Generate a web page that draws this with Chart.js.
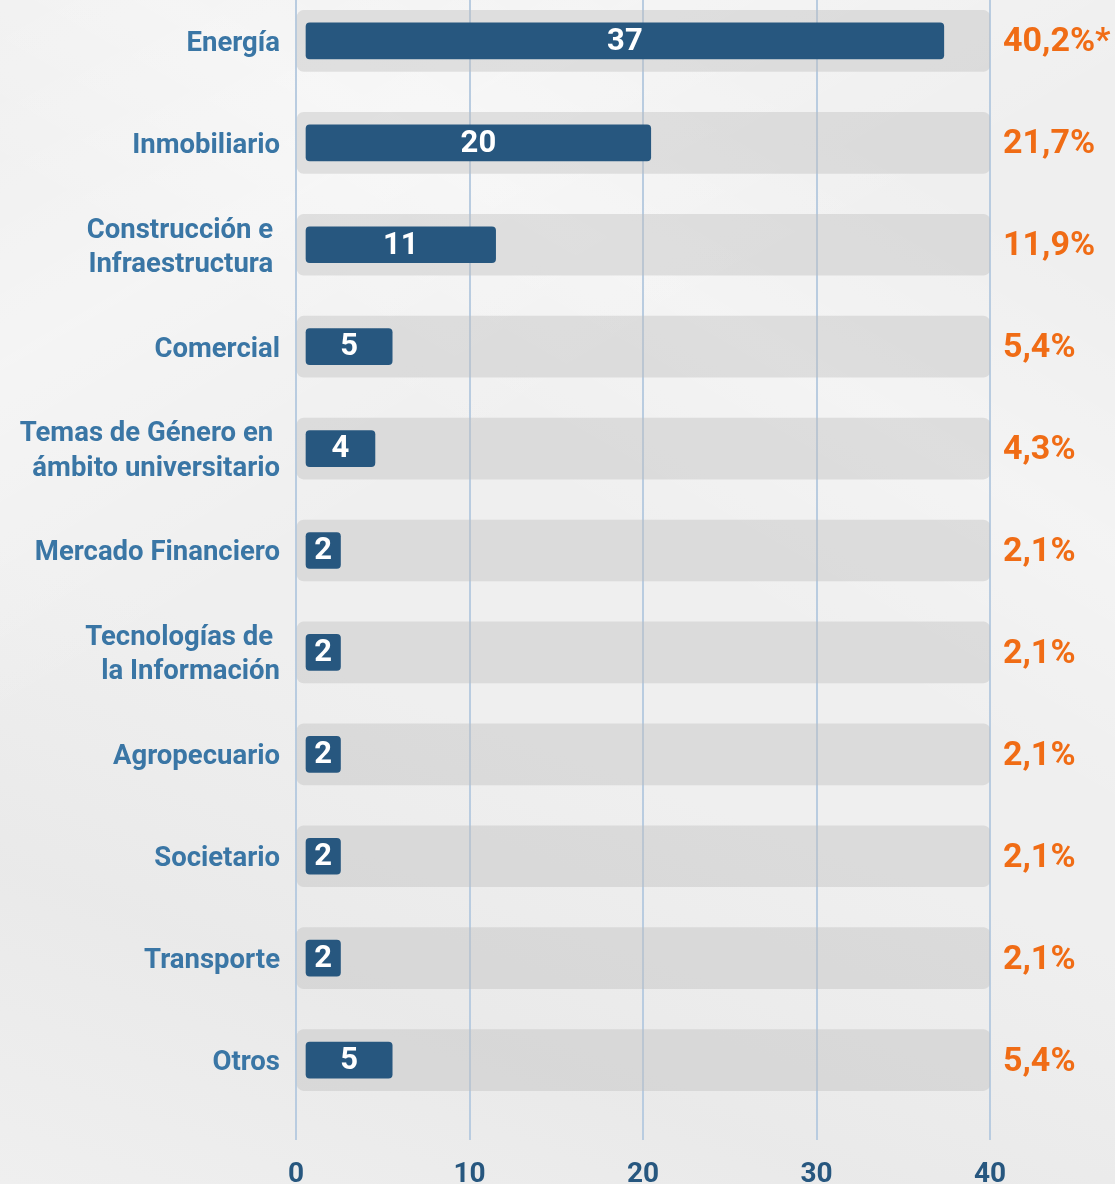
<!DOCTYPE html>
<html>
<head>
<meta charset="utf-8">
<script src="https://cdn.jsdelivr.net/npm/chart.js@4.4.1/dist/chart.umd.min.js"></script>
<style>
  html, body { margin: 0; padding: 0; overflow: hidden; }
  body {
    width: 1115px; height: 1184px; position: relative;
    background-color: #efefef;
    background-image:
      linear-gradient(150deg, rgba(255,255,255,0) 0%, rgba(255,255,255,0.35) 20%, rgba(255,255,255,0) 40%),
      linear-gradient(30deg, rgba(255,255,255,0) 55%, rgba(255,255,255,0.3) 70%, rgba(255,255,255,0) 85%),
      linear-gradient(200deg, rgba(230,230,230,0) 60%, rgba(228,228,228,0.5) 80%, rgba(230,230,230,0) 100%);
  }
  #wrap { position: absolute; left: 0; top: -10px; width: 1115px; height: 1196px; }
</style>
</head>
<body>
<div id="wrap"><canvas id="c"></canvas></div>
<script>
const categories = [
  "Energía",
  "Inmobiliario",
  ["Construcción e ", "Infraestructura "],
  "Comercial",
  ["Temas de Género en ", "ámbito universitario"],
  "Mercado Financiero",
  ["Tecnologías de ", "la Información"],
  "Agropecuario",
  "Societario",
  "Transporte",
  "Otros"
];
const counts = [37, 20, 11, 5, 4, 2, 2, 2, 2, 2, 5];
const percentLabels = ["40,2%*", "21,7%", "11,9%", "5,4%", "4,3%", "2,1%", "2,1%", "2,1%", "2,1%", "2,1%", "5,4%"];
const trackValues = [40, 40, 40, 40, 40, 40, 40, 40, 40, 40, 40];
const xTicks = [0, 10, 20, 30, 40];

const barValueLabels = {
  id: 'barValueLabels',
  afterDatasetsDraw(chart) {
    const meta = chart.getDatasetMeta(0);
    const ctx = chart.ctx;
    ctx.save();
    ctx.font = 'bold 31px Roboto';
    ctx.fillStyle = '#ffffff';
    ctx.textAlign = 'center';
    ctx.textBaseline = 'middle';
    meta.data.forEach((el, i) => {
      const cx = (el.x + el.base) / 2;
      ctx.fillText(String(counts[i]), cx, el.y + 1);
    });
    ctx.restore();
  }
};

const noEdgePadding = s => { s.paddingTop = 0; s.paddingBottom = 0; };

new Chart(document.getElementById('c'), {
  type: 'bar',
  data: {
    labels: categories,
    datasets: [
      {
        label: 'Cantidad',
        data: counts,
        xAxisID: 'x2',
        yAxisID: 'y',
        backgroundColor: '#27577f',
        borderRadius: 4,
        borderSkipped: false,
        barThickness: 36,
        grouped: false,
        order: 1
      },
      {
        label: 'track',
        data: trackValues,
        xAxisID: 'x',
        yAxisID: 'y',
        backgroundColor: 'rgba(190,190,190,0.42)',
        borderRadius: 7,
        borderSkipped: false,
        barThickness: 61,
        grouped: false,
        order: 2
      }
    ]
  },
  options: {
    indexAxis: 'y',
    responsive: true,
    maintainAspectRatio: false,
    animation: false,
    layout: { padding: 0 },
    plugins: { legend: { display: false }, tooltip: { enabled: false } },
    scales: {
      x: {
        type: 'linear',
        position: 'bottom',
        min: 0,
        max: 40,
        afterBuildTicks: s => { s.ticks = xTicks.map(v => ({ value: v })); },
        afterFit: s => { s.height = 75; },
        grid: { color: '#b9cce0', lineWidth: 2, drawTicks: true, tickLength: 29, tickColor: '#b9cce0' },
        border: { display: false },
        ticks: { font: { family: 'Roboto', weight: 'bold', size: 28 }, color: '#27577f', padding: 18 }
      },
      x2: {
        type: 'linear',
        display: false,
        min: -0.58,
        max: 39.68
      },
      y: {
        type: 'category',
        position: 'left',
        afterFit: s => { s.width = 296; noEdgePadding(s); },
        grid: { display: false, drawTicks: false },
        border: { display: false },
        ticks: { font: { family: 'Roboto', weight: 'bold', size: 27.5, lineHeight: 1.24 }, color: '#3a76a5', padding: 16, labelOffset: 3 }
      },
      y2: {
        type: 'category',
        position: 'right',
        labels: percentLabels,
        offset: true,
        afterFit: s => { s.width = 125; noEdgePadding(s); },
        grid: { display: false, drawTicks: false },
        border: { display: false },
        ticks: { font: { family: 'Roboto', weight: 'bold', size: 34 }, color: '#f06c15', padding: 13, labelOffset: 2 }
      }
    }
  },
  plugins: [barValueLabels]
});
</script>
</body>
</html>
